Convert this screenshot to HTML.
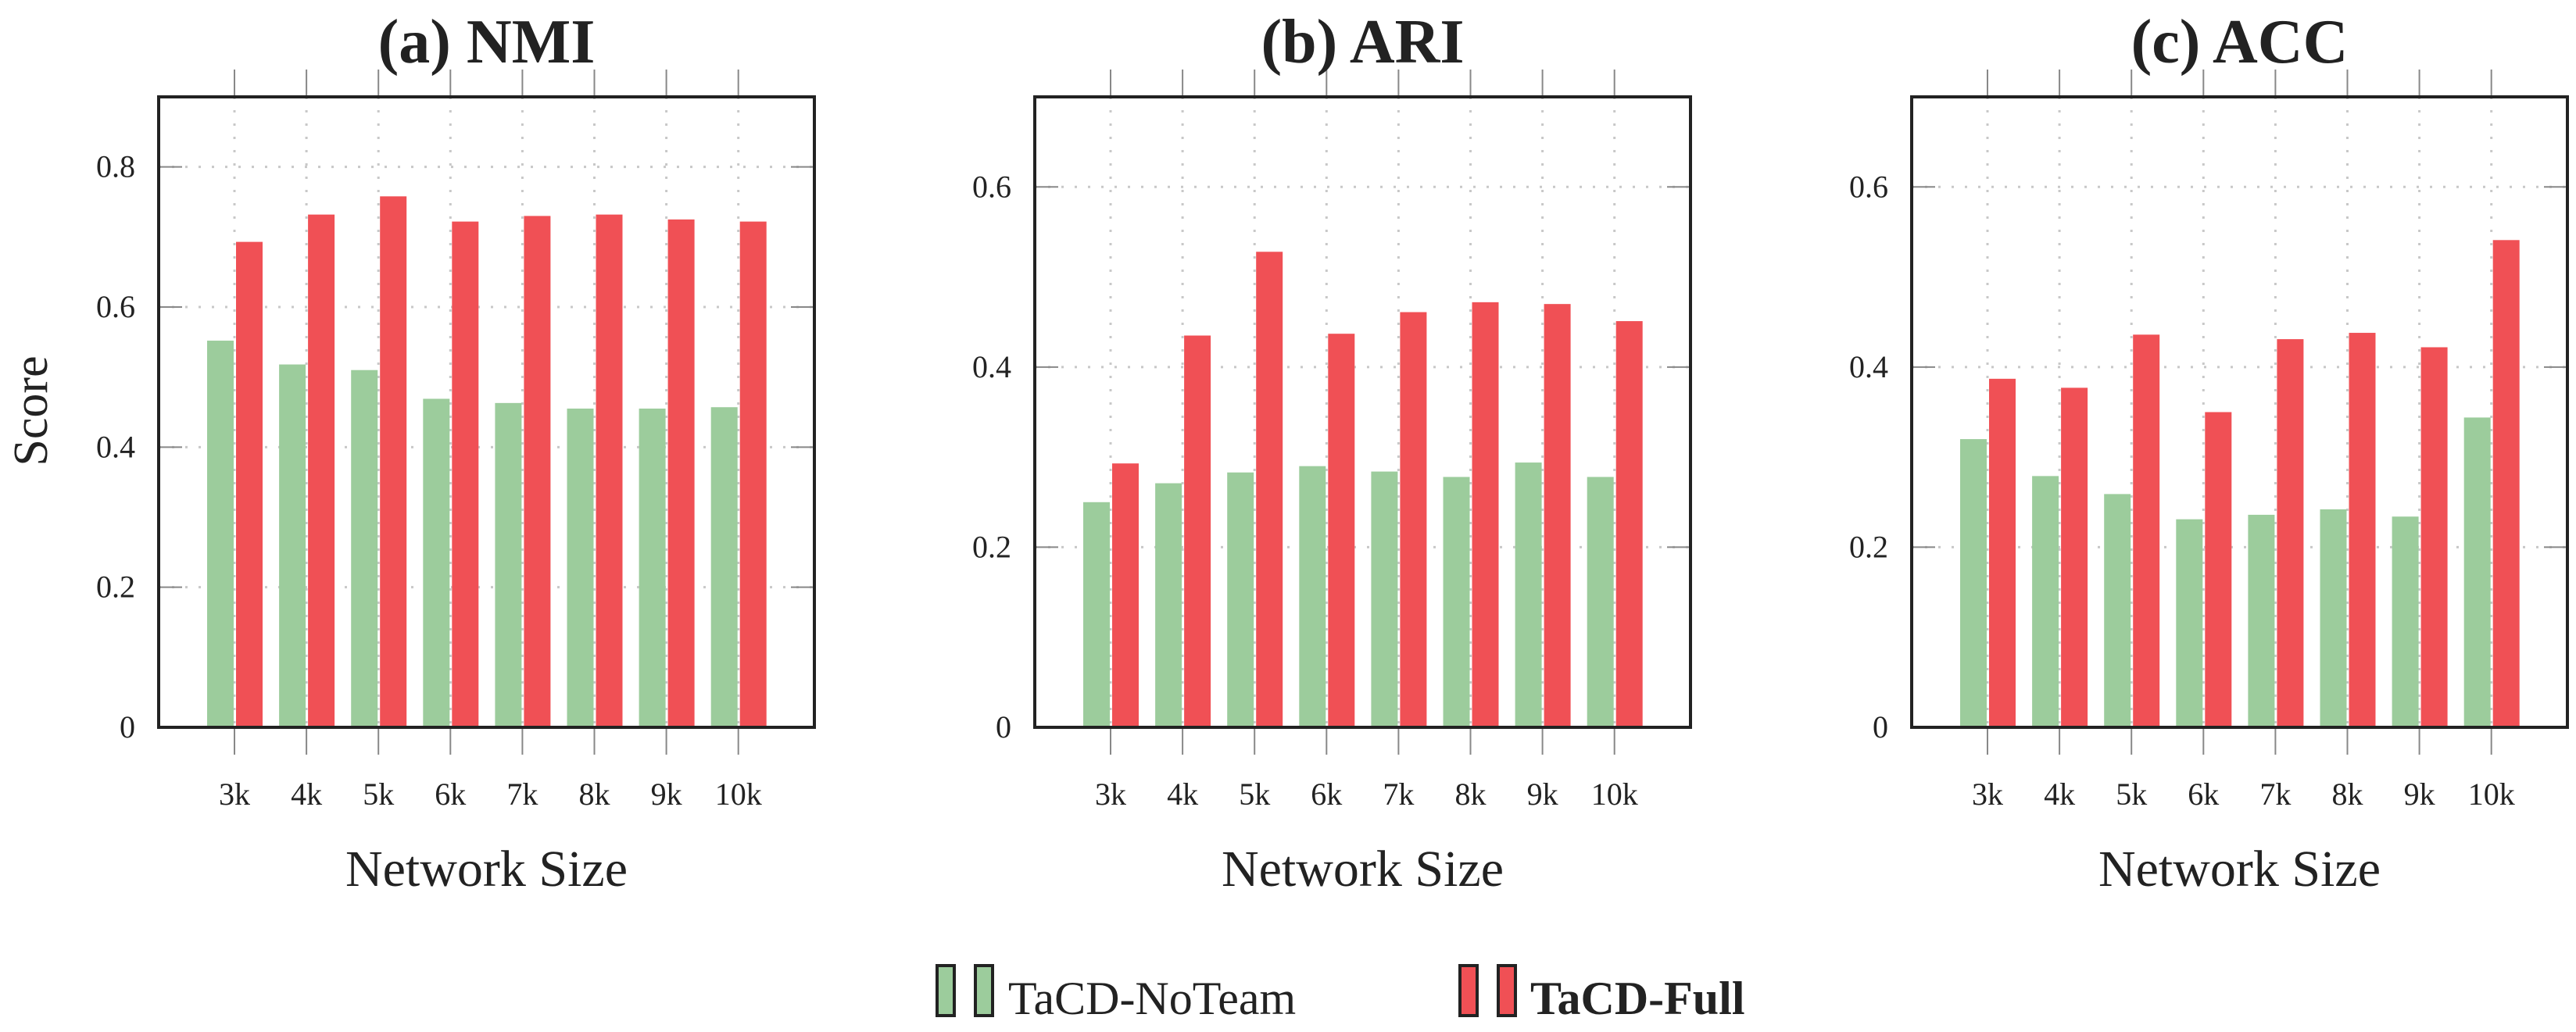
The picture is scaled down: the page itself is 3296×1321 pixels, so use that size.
<!DOCTYPE html>
<html><head><meta charset="utf-8"><style>
body{margin:0;background:#fff;}
svg{display:block;font-family:"Liberation Serif",serif;}
</style></head><body>
<svg id="chart" width="3296" height="1321" viewBox="0 0 3296 1321" xmlns="http://www.w3.org/2000/svg">
<text x="60" y="526" font-size="62" fill="#222" text-anchor="middle" transform="rotate(-90 60 526)">Score</text>
<g>
<rect x="1199" y="1236" width="22" height="64" fill="#9ccc9c" stroke="#222" stroke-width="4"/>
<rect x="1248" y="1236" width="22" height="64" fill="#9ccc9c" stroke="#222" stroke-width="4"/>
<text x="1290" y="1298" font-size="60" fill="#222">TaCD-NoTeam</text>
<rect x="1868" y="1236" width="22" height="64" fill="#f05055" stroke="#222" stroke-width="4"/>
<rect x="1917" y="1236" width="22" height="64" fill="#f05055" stroke="#222" stroke-width="4"/>
<text x="1958" y="1298" font-size="60" font-weight="bold" fill="#222">TaCD-Full</text>
</g>
</svg>
<script>
const categories = ["3k","4k","5k","6k","7k","8k","9k","10k"];
const panelTitles = ["(a) NMI","(b) ARI","(c) ACC"];
const panelMax = [0.9, 0.7, 0.7];
const yTicksA = [0, 0.2, 0.4, 0.6, 0.8];
const yTicksB = [0, 0.2, 0.4, 0.6];
const yTicksC = [0, 0.2, 0.4, 0.6];
const nmiNoTeam = [0.552,0.518,0.510,0.469,0.463,0.455,0.455,0.457];
const nmiFull = [0.693,0.732,0.758,0.722,0.730,0.732,0.725,0.722];
const ariNoTeam = [0.250,0.271,0.283,0.290,0.284,0.278,0.294,0.278];
const ariFull = [0.293,0.435,0.528,0.437,0.461,0.472,0.470,0.451];
const accNoTeam = [0.320,0.279,0.259,0.231,0.236,0.242,0.234,0.344];
const accFull = [0.387,0.377,0.436,0.350,0.431,0.438,0.422,0.541];

const NS = "http://www.w3.org/2000/svg";
const svgRoot = document.getElementById('chart');
function mk(tag, attrs, parent){const e=document.createElementNS(NS,tag);for(const k in attrs)e.setAttribute(k,attrs[k]);(parent||svgRoot).appendChild(e);return e;}
const panels = [
 {left:203, key:'nmi', ticks:yTicksA, a:nmiNoTeam, b:nmiFull},
 {left:1324, key:'ari', ticks:yTicksB, a:ariNoTeam, b:ariFull},
 {left:2446, key:'acc', ticks:yTicksC, a:accNoTeam, b:accFull}
];
const plotTop=124, plotBottom=931, plotWidth=839, step=92.1;
panels.forEach((p,pi)=>{
  const g=mk('g',{});
  
  
  const ymax=panelMax[pi];
  const y=v=>plotBottom-(v/ymax)*(plotBottom-plotTop);
  const x=i=>p.left+97+i*step;
  p.ticks.forEach(t=>{
    if(t>0){const l=mk('line',{x1:p.left,x2:p.left+plotWidth,y1:y(t),y2:y(t),stroke:'#c8c8c8','stroke-width':3,'stroke-dasharray':'3 14'},g);
      
      }
    const tl=mk('line',{x1:p.left,x2:p.left+30,y1:y(t),y2:y(t),stroke:'#888','stroke-width':2},g);
    
    
    const tr=mk('line',{x1:p.left+plotWidth-30,x2:p.left+plotWidth,y1:y(t),y2:y(t),stroke:'#888','stroke-width':2},g);
    
    
    const lb=mk('text',{x:p.left-30,y:y(t)+13,'font-size':40,'text-anchor':'end',fill:'#222'},g);
    lb.textContent=t===0?'0':String(t);
    
    
  });
  categories.forEach((c,i)=>{
    const cx=x(i);
    const gl=mk('line',{x1:cx,x2:cx,y1:plotTop,y2:plotBottom,stroke:'#c8c8c8','stroke-width':3,'stroke-dasharray':'3 14'},g);
    
    
    const t1=mk('line',{x1:cx,x2:cx,y1:89,y2:plotTop,stroke:'#888','stroke-width':2},g);
    
    
    const t2=mk('line',{x1:cx,x2:cx,y1:plotBottom,y2:966,stroke:'#888','stroke-width':2},g);
    
    
    const ba=mk('rect',{x:cx-35,y:y(p.a[i]),width:34,height:plotBottom-y(p.a[i]),fill:'#9ccc9c'},g);
    
    
    const bb=mk('rect',{x:cx+2,y:y(p.b[i]),width:34,height:plotBottom-y(p.b[i]),fill:'#f05055'},g);
    
    
    const lb=mk('text',{x:cx,y:1030,'font-size':40,'text-anchor':'middle',fill:'#222'},g);
    lb.textContent=c;
    
    
  });
  const fr=mk('rect',{x:p.left,y:plotTop,width:plotWidth,height:plotBottom-plotTop,fill:'none',stroke:'#222','stroke-width':4},g);
  
  
  const tt=mk('text',{x:p.left+plotWidth/2,y:80,'font-size':80,'font-weight':'bold','text-anchor':'middle',fill:'#222'},g);
  tt.textContent=panelTitles[pi];
  
  
  const xt=mk('text',{x:p.left+plotWidth/2,y:1134,'font-size':66,'text-anchor':'middle',fill:'#222'},g);
  xt.textContent='Network Size';
  
  
});
</script>
</body></html>
